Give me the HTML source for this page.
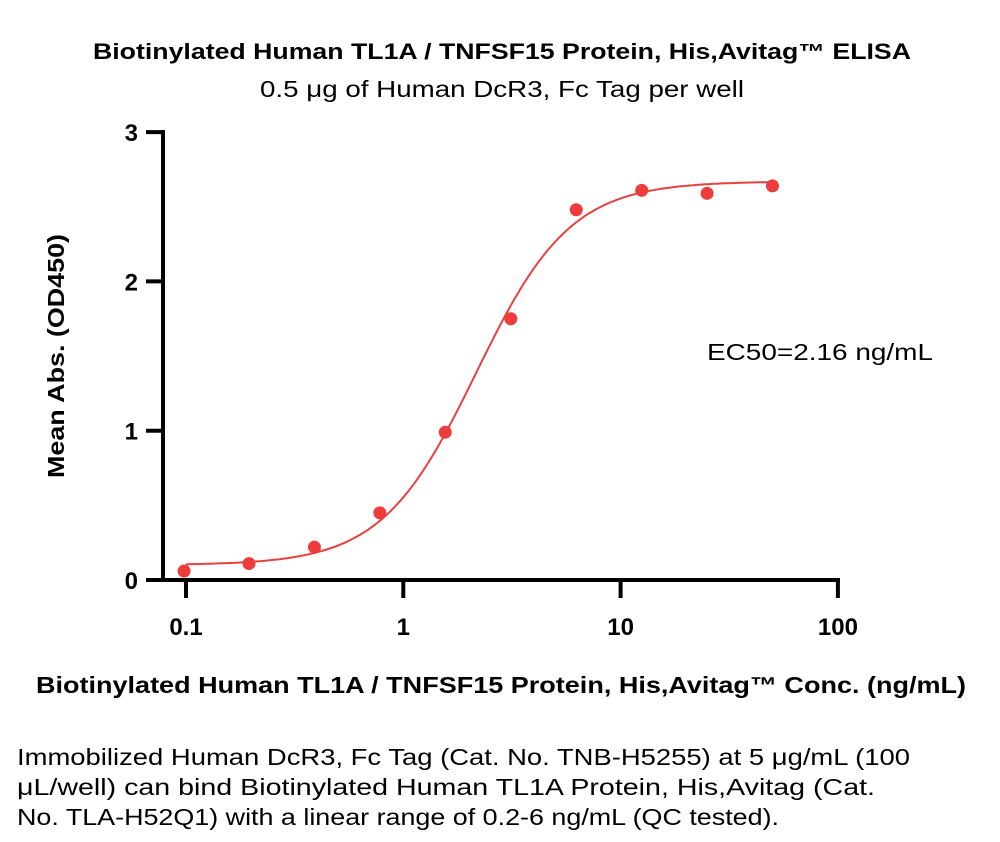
<!DOCTYPE html>
<html><head><meta charset="utf-8"><style>
body{margin:0;background:#fff;}
svg{display:block;font-family:"Liberation Sans",sans-serif;}
</style></head><body>
<svg width="1000" height="842" viewBox="0 0 1000 842">
<text x="502" y="59" text-anchor="middle" font-size="22" font-weight="bold" textLength="818" lengthAdjust="spacingAndGlyphs">Biotinylated Human TL1A / TNFSF15 Protein, His,Avitag™ ELISA</text>
<text x="502" y="97" text-anchor="middle" font-size="23" textLength="484" lengthAdjust="spacingAndGlyphs">0.5 μg of Human DcR3, Fc Tag per well</text>
<g id="axes"></g>
<g id="marks"></g>
<text x="820" y="360" text-anchor="middle" font-size="23" textLength="226" lengthAdjust="spacingAndGlyphs">EC50=2.16 ng/mL</text>
<text transform="translate(64,356) rotate(-90)" text-anchor="middle" font-size="23" font-weight="bold" textLength="244" lengthAdjust="spacingAndGlyphs">Mean Abs. (OD450)</text>
<text x="501" y="693" text-anchor="middle" font-size="23" font-weight="bold" textLength="930" lengthAdjust="spacingAndGlyphs">Biotinylated Human TL1A / TNFSF15 Protein, His,Avitag™ Conc. (ng/mL)</text>
<g font-size="23">
<text x="17" y="765" textLength="893" lengthAdjust="spacingAndGlyphs">Immobilized Human DcR3, Fc Tag (Cat. No. TNB-H5255) at 5 μg/mL (100</text>
<text x="17" y="795" textLength="858" lengthAdjust="spacingAndGlyphs">μL/well) can bind Biotinylated Human TL1A Protein, His,Avitag (Cat.</text>
<text x="17" y="825" textLength="762" lengthAdjust="spacingAndGlyphs">No. TLA-H52Q1) with a linear range of 0.2-6 ng/mL (QC tested).</text>
</g>
</svg>
<script>
const concs=[0.098,0.195,0.39,0.78,1.56,3.125,6.25,12.5,25,50];
const absVals=[0.06,0.11,0.22,0.45,0.99,1.75,2.48,2.61,2.59,2.64];
const fitBottom=[0.1];
const fitTop=[2.67];
const fitEC50=[2.16];
const fitHill=[2.0];
const xTicks=[0.1,1,10,100];
const xTickLabels=["0.1","1","10","100"];
const yTicks=[0,1,2,3];
const yTickLabels=["0","1","2","3"];
const NS="http://www.w3.org/2000/svg";
const X=v=>186+(Math.log10(v)+1)*217.3;
const Y=v=>580-v*149.3;
function mk(t,a,p){const e=document.createElementNS(NS,t);for(const k in a)e.setAttribute(k,a[k]);p.appendChild(e);return e;}
const ax=document.getElementById('axes'),mg=document.getElementById('marks');
const yl=mk('line',{x1:163,y1:Y(3)-2,x2:163,y2:582,stroke:'#000','stroke-width':4},ax);


const xl=mk('line',{x1:146,y1:580,x2:840,y2:580,stroke:'#000','stroke-width':4},ax);


yTicks.forEach((v,i)=>{
 const t=mk('line',{x1:146,y1:Y(v),x2:163,y2:Y(v),stroke:'#000','stroke-width':4},ax);
 
 
 const l=mk('text',{x:138,y:Y(v)+9,'text-anchor':'end','font-size':24,'font-weight':'bold'},ax);
 l.textContent=yTickLabels[i];
 
 
});
xTicks.forEach((v,i)=>{
 const t=mk('line',{x1:X(v),y1:580,x2:X(v),y2:598,stroke:'#000','stroke-width':4},ax);
 
 
 const l=mk('text',{x:X(v),y:635,'text-anchor':'middle','font-size':24,'font-weight':'bold'},ax);
 l.textContent=xTickLabels[i];
 
 
});
let d='';
for(let i=0;i<=200;i++){
 const lx=Math.log10(0.1)+(Math.log10(50)-Math.log10(0.1))*i/200;const c=Math.pow(10,lx);
 const y=fitBottom[0]+(fitTop[0]-fitBottom[0])/(1+Math.pow(fitEC50[0]/c,fitHill[0]));
 d+=(i?'L':'M')+X(c).toFixed(1)+','+Y(y).toFixed(1);
}
const cv=mk('path',{d:d,fill:'none',stroke:'#e8403f','stroke-width':2},mg);


concs.forEach((c,i)=>{
 const p=mk('circle',{cx:X(c),cy:Y(absVals[i]),r:6.5,fill:'#ee3b3b'},mg);
 
 
});
</script>
</body></html>
